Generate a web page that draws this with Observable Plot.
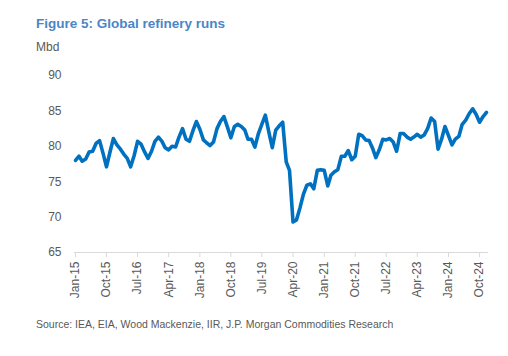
<!DOCTYPE html>
<html>
<head>
<meta charset="utf-8">
<script src="https://cdn.jsdelivr.net/npm/d3@7"></script>
<script src="https://cdn.jsdelivr.net/npm/@observablehq/plot@0.6"></script>
<style>
  html, body { margin: 0; padding: 0; background: #fff; }
  #wrap { position: relative; width: 508px; height: 356px; overflow: hidden; font-family: "Liberation Sans", Arial, sans-serif; }
  #title { position: absolute; left: 36px; top: 16px; font-size: 13.5px; font-weight: bold; color: #4a86c8; white-space: nowrap; }
  #unit { position: absolute; left: 36px; top: 40px; font-size: 12px; color: #595959; white-space: nowrap; }
  #chart { position: absolute; left: 0; top: 60px; }
  #source { position: absolute; left: 36px; top: 318px; font-size: 10.5px; color: #595959; white-space: nowrap; }
</style>
</head>
<body>
<div id="wrap">
  <div id="title">Figure 5: Global refinery runs</div>
  <div id="unit">Mbd</div>
  <div id="chart"></div>
  <div id="source">Source: IEA, EIA, Wood Mackenzie, IIR, J.P. Morgan Commodities Research</div>
</div>
<script>
// Monthly global refinery runs (Mbd), Jan-15 .. Dec-24
const startMonth = "2015-01";
const runs = [
  78.0, 78.6, 77.9, 78.2, 79.2, 79.3, 80.4, 80.8, 79.0, 77.1, 79.2, 81.1,
  80.2, 79.6, 78.9, 78.3, 77.1, 78.7, 80.7, 80.3, 79.2, 78.3, 79.3, 80.7,
  81.3, 80.7, 79.8, 79.5, 80.0, 79.9, 81.3, 82.5, 81.0, 80.7, 82.2, 83.5,
  82.4, 80.9, 80.5, 80.1, 80.6, 82.5, 83.5, 84.2, 82.7, 81.2, 82.8, 83.1,
  82.8, 82.3, 81.0, 81.0, 79.9, 81.8, 83.1, 84.4, 82.0, 79.8, 82.3, 82.9,
  83.4, 77.8, 76.6, 69.3, 69.6, 71.3, 73.2, 74.5, 74.7, 74.0, 76.6, 76.7,
  76.6, 74.4, 75.9, 76.4, 76.7, 78.6, 78.6, 79.4, 78.1, 78.6, 81.7, 81.5,
  80.9, 80.8, 79.8, 78.4, 79.5, 81.0, 80.9, 81.1, 80.6, 79.3, 81.8, 81.8,
  81.3, 81.0, 81.3, 81.7, 81.3, 81.6, 82.5, 84.0, 83.5, 79.6, 81.0, 82.8,
  81.5, 80.2, 81.0, 81.4, 83.1, 83.7, 84.6, 85.3, 84.5, 83.4, 84.2, 84.8
];
const xTickLabels = ["Jan-15","Oct-15","Jul-16","Apr-17","Jan-18","Oct-18","Jul-19","Apr-20","Jan-21","Oct-21","Jul-22","Apr-23","Jan-24","Oct-24"];
const yTicks = [65, 70, 75, 80, 85, 90];

const start = d3.utcParse("%Y-%m")(startMonth);
const data = runs.map((v, i) => ({date: d3.utcMonth.offset(start, i), value: v}));
const parseLbl = d3.utcParse("%b-%y");
const xTicks = xTickLabels.map(parseLbl);

const chart = Plot.plot({
  width: 508,
  height: 242,
  marginLeft: 74,
  marginRight: 20,
  marginTop: 15,
  marginBottom: 50,
  style: {fontFamily: "'Liberation Sans', Arial, sans-serif", fontSize: "12px", color: "#595959", background: "transparent"},
  x: {type: "utc", domain: [data[0].date, data[data.length - 1].date], insetLeft: 1, insetRight: 2},
  y: {domain: [65, 90]},
  marks: [
    Plot.ruleY([65], {stroke: "#d9d9d9", strokeWidth: 1}),
    Plot.axisX({ticks: xTicks, tickFormat: d3.utcFormat("%b-%y"), tickRotate: -90, tickSize: 5, tickPadding: 4, stroke: "#d9d9d9", fill: "#595959", label: null}),
    Plot.axisY({ticks: yTicks, tickSize: 0, tickPadding: 13, fill: "#595959", label: null}),
    Plot.line(data, {x: "date", y: "value", stroke: "#0070c0", strokeWidth: 3.6, strokeLinejoin: "round", strokeLinecap: "round"})
  ]
});
document.getElementById("chart").appendChild(chart);
</script>
</body>
</html>
